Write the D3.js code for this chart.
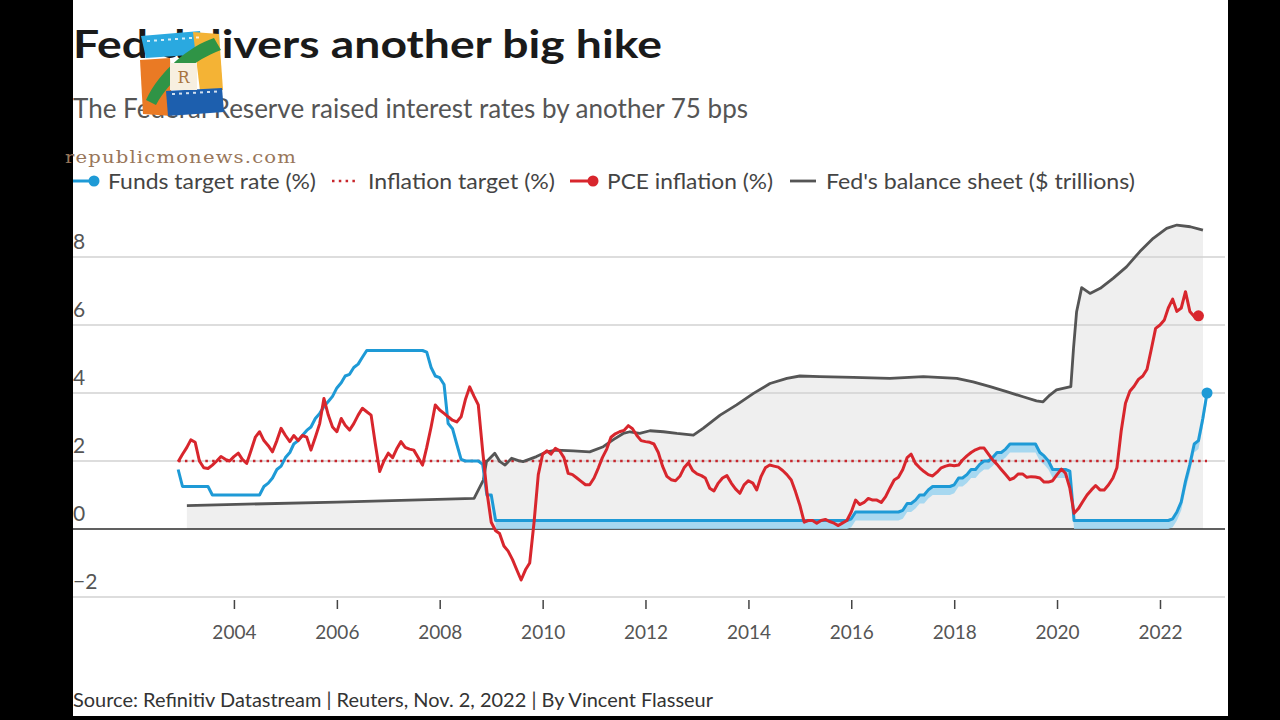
<!DOCTYPE html>
<html><head><meta charset="utf-8">
<script src="https://cdn.jsdelivr.net/npm/d3@7"></script>
<style>
html,body{margin:0;padding:0;background:#000;}
svg{display:block;}
</style></head>
<body>
<svg id="chart" width="1280" height="720"></svg>
<script>
// ---------------- DATA ----------------
const titleText = "Fed delivers another big hike";
const subtitleText = "The Federal Reserve raised interest rates by another 75 bps";
const sourceText = "Source: Refinitiv Datastream | Reuters, Nov. 2, 2022 | By Vincent Flasseur";
const watermarkText = "republicmonews.com";
const seriesNames = ["Funds target rate (%)", "Inflation target (%)", "PCE inflation (%)", "Fed's balance sheet ($ trillions)"];
const xTickYears = [2004, 2006, 2008, 2010, 2012, 2014, 2016, 2018, 2020, 2022];
const yTicks = [-2, 0, 2, 4, 6, 8];

// monthly series, first month Nov 2002, each value drawn at the end of its month
const monthlyStart = "2002-11";
const pceValues = [
  1.98, 2.2,                                                         // 2002 Nov-Dec
  2.4, 2.62, 2.55, 2.0, 1.8, 1.78, 1.88, 2.0, 2.13, 2.05, 2.0, 2.13,  // 2003
  2.23, 2.05, 1.93, 2.3, 2.7, 2.86, 2.6, 2.45, 2.27, 2.6, 2.96, 2.75, // 2004
  2.57, 2.75, 2.6, 2.75, 2.7, 2.32, 2.7, 3.1, 3.84, 3.35, 3.0, 2.86,  // 2005
  3.25, 3.05, 2.91, 3.1, 3.35, 3.55, 3.45, 3.35, 2.5, 1.69, 2.0, 2.23, // 2006
  2.1, 2.35, 2.57, 2.4, 2.35, 2.32, 2.1, 1.88, 2.4, 3.0, 3.65, 3.5,   // 2007
  3.4, 3.3, 3.2, 3.15, 3.3, 3.8, 4.18, 3.9, 3.65, 2.3, 1.1, 0.2,      // 2008
  -0.05, -0.13, -0.5, -0.65, -0.9, -1.2, -1.5, -1.2, -1.0, 0.2, 1.6, 2.2, // 2009
  2.3, 2.2, 2.37, 2.3, 2.1, 1.64, 1.6, 1.5, 1.4, 1.3, 1.3, 1.5,       // 2010
  1.8, 2.1, 2.35, 2.7, 2.8, 2.86, 2.9, 3.04, 2.95, 2.75, 2.6, 2.57,   // 2011
  2.55, 2.5, 2.25, 1.85, 1.55, 1.45, 1.42, 1.55, 1.8, 1.95, 1.72, 1.62, // 2012
  1.57, 1.5, 1.2, 1.12, 1.35, 1.5, 1.57, 1.35, 1.18, 1.05, 1.3, 1.42, // 2013
  1.35, 1.15, 1.55, 1.8, 1.88, 1.85, 1.82, 1.72, 1.6, 1.44, 1.1, 0.7, // 2014
  0.2, 0.25, 0.25, 0.17, 0.25, 0.28, 0.22, 0.17, 0.1, 0.18, 0.25, 0.5, // 2015
  0.85, 0.72, 0.78, 0.9, 0.85, 0.85, 0.78, 0.95, 1.2, 1.44, 1.52, 1.75, // 2016
  2.1, 2.2, 1.93, 1.8, 1.69, 1.6, 1.56, 1.67, 1.8, 1.85, 1.88, 1.86,  // 2017
  1.88, 2.03, 2.15, 2.25, 2.33, 2.38, 2.38, 2.2, 2.03, 1.9, 1.75, 1.6, // 2018
  1.45, 1.5, 1.62, 1.62, 1.52, 1.54, 1.53, 1.5, 1.38, 1.38, 1.42, 1.6, // 2019
  1.76, 1.64, 1.2, 0.46, 0.6, 0.8, 1.0, 1.15, 1.28, 1.15, 1.15, 1.3,  // 2020
  1.5, 1.8, 2.9, 3.7, 4.05, 4.2, 4.4, 4.5, 4.7, 5.3, 5.9, 6.0,        // 2021
  6.15, 6.5, 6.76, 6.4, 6.5, 6.98, 6.4, 6.25, 6.27                    // 2022 Jan-Sep
];
// Fed funds target (upper bound of the range), Nov 2002 - Nov 2022
const fundsUpper = [
  1.75, 1.25,                                                         // 2002 Nov-Dec
  1.25, 1.25, 1.25, 1.25, 1.25, 1.25, 1.0, 1.0, 1.0, 1.0, 1.0, 1.0,   // 2003
  1.0, 1.0, 1.0, 1.0, 1.0, 1.0, 1.25, 1.35, 1.5, 1.75, 1.85, 2.1,     // 2004
  2.25, 2.5, 2.6, 2.75, 2.9, 3.0, 3.25, 3.4, 3.6, 3.75, 3.9, 4.15,    // 2005
  4.3, 4.5, 4.55, 4.75, 4.85, 5.05, 5.25, 5.25, 5.25, 5.25, 5.25, 5.25, // 2006
  5.25, 5.25, 5.25, 5.25, 5.25, 5.25, 5.25, 5.25, 5.2, 4.75, 4.5, 4.45, // 2007
  4.25, 3.1, 2.95, 2.5, 2.05, 2.0, 2.0, 2.0, 2.0, 1.9, 1.0, 1.0,      // 2008
  0.25, 0.25, 0.25, 0.25, 0.25, 0.25, 0.25, 0.25, 0.25, 0.25, 0.25, 0.25, // 2009
  0.25, 0.25, 0.25, 0.25, 0.25, 0.25, 0.25, 0.25, 0.25, 0.25, 0.25, 0.25, // 2010
  0.25, 0.25, 0.25, 0.25, 0.25, 0.25, 0.25, 0.25, 0.25, 0.25, 0.25, 0.25, // 2011
  0.25, 0.25, 0.25, 0.25, 0.25, 0.25, 0.25, 0.25, 0.25, 0.25, 0.25, 0.25, // 2012
  0.25, 0.25, 0.25, 0.25, 0.25, 0.25, 0.25, 0.25, 0.25, 0.25, 0.25, 0.25, // 2013
  0.25, 0.25, 0.25, 0.25, 0.25, 0.25, 0.25, 0.25, 0.25, 0.25, 0.25, 0.25, // 2014
  0.25, 0.25, 0.25, 0.25, 0.25, 0.25, 0.25, 0.25, 0.25, 0.25, 0.25, 0.3,  // 2015
  0.5, 0.5, 0.5, 0.5, 0.5, 0.5, 0.5, 0.5, 0.5, 0.5, 0.5, 0.55,        // 2016
  0.75, 0.75, 0.85, 1.0, 1.0, 1.15, 1.25, 1.25, 1.25, 1.25, 1.25, 1.3, // 2017
  1.5, 1.5, 1.6, 1.75, 1.75, 1.9, 2.0, 2.0, 2.1, 2.25, 2.25, 2.35,    // 2018
  2.5, 2.5, 2.5, 2.5, 2.5, 2.5, 2.5, 2.25, 2.15, 2.0, 1.75, 1.75,     // 2019
  1.75, 1.75, 1.7, 0.25, 0.25, 0.25, 0.25, 0.25, 0.25, 0.25, 0.25, 0.25, // 2020
  0.25, 0.25, 0.25, 0.25, 0.25, 0.25, 0.25, 0.25, 0.25, 0.25, 0.25, 0.25, // 2021
  0.25, 0.25, 0.3, 0.5, 0.8, 1.4, 1.9, 2.5, 2.6, 3.25, 4.0            // 2022 Jan-Nov
];
const fundsRangeWidth = 0.25;      // target range is 25 bps wide
const fundsRangeFrom = "2009-01";  // range shown from here on
const inflationTarget = 2;

// Fed balance sheet, $ trillions
const balanceDates = [
  "2003-02-01", "2006-01-01", "2008-09-01", "2008-11-06", "2008-11-28", "2009-01-26", "2009-03-04",
  "2009-04-09", "2009-05-26", "2009-07-13", "2009-08-15", "2009-11-18", "2010-01-30", "2010-04-08",
  "2010-08-07", "2010-12-01", "2011-03-07", "2011-05-15", "2011-07-27", "2011-09-13", "2011-11-21",
  "2012-02-02", "2012-05-08", "2012-08-11", "2012-12-06", "2013-02-13", "2013-06-14", "2013-10-09",
  "2014-02-06", "2014-06-03", "2014-10-01", "2015-01-01", "2015-05-23", "2016-01-15", "2016-10-01",
  "2017-05-27", "2018-01-19", "2018-05-15", "2018-09-13", "2019-01-08", "2019-05-05", "2019-08-08",
  "2019-09-24", "2019-11-11", "2019-12-28", "2020-04-08", "2020-04-27", "2020-05-19", "2020-06-24",
  "2020-08-22", "2020-11-03", "2021-02-02", "2021-05-08", "2021-08-11", "2021-11-14", "2022-02-17",
  "2022-05-01", "2022-08-04", "2022-11-02"
];
const balanceValues = [
  0.69, 0.79, 0.9, 1.44, 1.98, 2.23, 1.98,
  1.88, 2.08, 2.01, 1.98, 2.13, 2.27, 2.32,
  2.30, 2.27, 2.42, 2.62, 2.81, 2.86, 2.81,
  2.89, 2.86, 2.81, 2.76, 2.96, 3.35, 3.65,
  3.99, 4.28, 4.43, 4.5, 4.48, 4.46, 4.43,
  4.48, 4.43, 4.33, 4.19, 4.04, 3.89, 3.77,
  3.74, 3.94, 4.09, 4.19, 5.31, 6.39, 7.1,
  6.93, 7.08, 7.37, 7.71, 8.16, 8.55, 8.84,
  8.94, 8.89, 8.79
];

// ---------------- BUILD ----------------
const parseMonth = d3.timeParse("%Y-%m");
const parseDay = d3.timeParse("%Y-%m-%d");
const start = parseMonth(monthlyStart);
const monthEnd = i => d3.timeMonth.offset(start, i + 1);

const pce = pceValues.map((v, i) => ({date: monthEnd(i), v}));
const rangeFrom = parseMonth(fundsRangeFrom);
const funds = fundsUpper.map((v, i) => ({date: monthEnd(i), v}));
const fundsBand = funds.filter(d => d.date > rangeFrom).map(d => ({date: d.date, hi: d.v, lo: d.v - fundsRangeWidth}));
const balance = balanceDates.map((s, i) => ({date: parseDay(s), v: balanceValues[i]}));

const svg = d3.select("#chart");
const FONT = "Lato, 'Noto Sans', sans-serif";

svg.append("rect").attr("x", 73).attr("y", 0).attr("width", 1155).attr("height", 716).attr("fill", "#fff");

const x = d3.scaleTime().domain([new Date(2002, 0, 1), new Date(2023, 0, 1)]).range([131.1, 1211.4]);
const y = d3.scaleLinear().domain([-2, 8]).range([597, 257]);
const gridX0 = 73, gridX1 = 1225;

function fit(sel, w) { sel.attr("textLength", w).attr("lengthAdjust", "spacingAndGlyphs"); return sel; }

// balance sheet fill
svg.append("path").datum(balance)
  .attr("d", d3.area().x(d => x(d.date)).y0(y(0)).y1(d => y(d.v)))
  .attr("fill", "#efefef");

// gridlines
svg.append("g").selectAll("line").data(yTicks).join("line")
  .attr("x1", gridX0).attr("x2", gridX1)
  .attr("y1", d => y(d)).attr("y2", d => y(d))
  .attr("stroke", d => d === 0 ? "#2b2b2b" : "#d2d2d2")
  .attr("stroke-width", d => d === 0 ? 1.6 : 1.5);

// y labels
const fmtY = d3.format("d");
svg.append("g").selectAll("text").data(yTicks).join("text")
  .attr("x", 73).attr("y", d => y(d) - 8)
  .attr("font-family", FONT).attr("font-size", 21).attr("fill", "#555")
  .text(d => fmtY(d));

// x axis
const xAxis = svg.append("g").attr("transform", "translate(0,600)")
  .call(d3.axisBottom(x)
    .tickValues(xTickYears.map(yr => new Date(yr, 0, 1)))
    .tickFormat(d3.timeFormat("%Y"))
    .tickSize(9).tickPadding(17));
xAxis.select(".domain").remove();
xAxis.selectAll(".tick line").attr("stroke", "#444").attr("stroke-width", 1.5);
xAxis.selectAll(".tick text").attr("font-family", FONT).attr("font-size", 19).attr("fill", "#555");

// funds range band
svg.append("path").datum(fundsBand)
  .attr("d", d3.area().x(d => x(d.date)).y0(d => y(d.lo)).y1(d => y(d.hi)))
  .attr("fill", "#9ad3f0").attr("opacity", 0.85);

// inflation target dotted line
svg.append("line")
  .attr("x1", x(pce[0].date)).attr("x2", x(funds[funds.length - 1].date))
  .attr("y1", y(inflationTarget)).attr("y2", y(inflationTarget))
  .attr("stroke", "#c8262c").attr("stroke-width", 2.5).attr("stroke-dasharray", "2.5,4.3");

const line = d3.line().x(d => x(d.date)).y(d => y(d.v));

svg.append("path").datum(balance).attr("d", line)
  .attr("fill", "none").attr("stroke", "#555").attr("stroke-width", 2.8).attr("stroke-linejoin", "round");

svg.append("path").datum(funds).attr("d", line)
  .attr("fill", "none").attr("stroke", "#1e9ad6").attr("stroke-width", 3).attr("stroke-linejoin", "round");

svg.append("path").datum(pce).attr("d", line)
  .attr("fill", "none").attr("stroke", "#d8262d").attr("stroke-width", 3).attr("stroke-linejoin", "round");

const lastF = funds[funds.length - 1], lastP = pce[pce.length - 1];
svg.append("circle").attr("cx", x(lastF.date)).attr("cy", y(lastF.v)).attr("r", 5.5).attr("fill", "#1e9ad6");
svg.append("circle").attr("cx", x(lastP.date)).attr("cy", y(lastP.v)).attr("r", 5.5).attr("fill", "#d8262d");

// titles
fit(svg.append("text").attr("x", 73).attr("y", 58)
  .attr("font-family", FONT).attr("font-weight", 700).attr("font-size", 39).attr("fill", "#1a1a1a")
  .text(titleText), 589);
fit(svg.append("text").attr("x", 73).attr("y", 118)
  .attr("font-family", FONT).attr("font-weight", 400).attr("font-size", 26).attr("fill", "#555")
  .text(subtitleText), 675);

// legend
const LY = 181;
const legend = svg.append("g");
legend.append("line").attr("x1", 73).attr("x2", 94).attr("y1", LY).attr("y2", LY).attr("stroke", "#1e9ad6").attr("stroke-width", 3);
legend.append("circle").attr("cx", 94).attr("cy", LY).attr("r", 5.5).attr("fill", "#1e9ad6");
legend.append("line").attr("x1", 332).attr("x2", 357).attr("y1", LY).attr("y2", LY).attr("stroke", "#c8262c").attr("stroke-width", 2.5).attr("stroke-dasharray", "2.5,4.3");
legend.append("line").attr("x1", 570).attr("x2", 593).attr("y1", LY).attr("y2", LY).attr("stroke", "#d8262d").attr("stroke-width", 3);
legend.append("circle").attr("cx", 593).attr("cy", LY).attr("r", 5.5).attr("fill", "#d8262d");
legend.append("line").attr("x1", 790).attr("x2", 816).attr("y1", LY).attr("y2", LY).attr("stroke", "#555").attr("stroke-width", 2.8);
const legendPos = [[108, 208], [368, 187], [607, 166], [826, 309]];
seriesNames.forEach((n, i) => {
  fit(legend.append("text").attr("x", legendPos[i][0]).attr("y", LY + 8)
    .attr("font-family", FONT).attr("font-size", 22).attr("fill", "#444").text(n), legendPos[i][1]);
});

// source
fit(svg.append("text").attr("x", 73).attr("y", 707)
  .attr("font-family", FONT).attr("font-size", 19).attr("fill", "#333").text(sourceText), 640);

// watermark text
fit(svg.append("text").attr("x", 65).attr("y", 163)
  .attr("font-family", "'DejaVu Serif', 'Liberation Serif', serif").attr("font-size", 17).attr("fill", "#98765a")
  .attr("letter-spacing", 1).text(watermarkText), 232);

// watermark logo
const logo = svg.append("g");
logo.append("polygon").attr("points", "141,36 200,31 204,54 146,58").attr("fill", "#2aa9e0");
logo.append("polygon").attr("points", "193,32 219,34 223,90 200,91").attr("fill", "#f4b335");
logo.append("polygon").attr("points", "140,60 170,58 172,116 143,114").attr("fill", "#ea7a24");
logo.append("polygon").attr("points", "166,91 222,88 224,112 168,116").attr("fill", "#1d5fae");
logo.append("path").attr("d", "M214,38 C190,46 160,70 146,100 L156,105 C170,80 194,60 221,50 Z").attr("fill", "#2f9446");
logo.append("rect").attr("x", 170).attr("y", 63).attr("width", 27).attr("height", 27).attr("fill", "#f7efe0");
logo.append("text").attr("x", 183.5).attr("y", 83).attr("text-anchor", "middle")
  .attr("font-family", "'DejaVu Serif', serif").attr("font-size", 16).attr("fill", "#a8743e").text("R");
const holes = [];
for (let k = 0; k < 8; k++) holes.push([147 + k * 7, 40 - k * 0.5]);
logo.append("g").selectAll("rect").data(holes).join("rect")
  .attr("x", d => d[0]).attr("y", d => d[1]).attr("width", 3).attr("height", 2).attr("fill", "#fff").attr("opacity", 0.8);
const holes2 = [];
for (let k = 0; k < 7; k++) holes2.push([172 + k * 7, 93 - k * 0.4]);
logo.append("g").selectAll("rect").data(holes2).join("rect")
  .attr("x", d => d[0]).attr("y", d => d[1]).attr("width", 3).attr("height", 2).attr("fill", "#fff").attr("opacity", 0.8);
</script>
</body></html>
